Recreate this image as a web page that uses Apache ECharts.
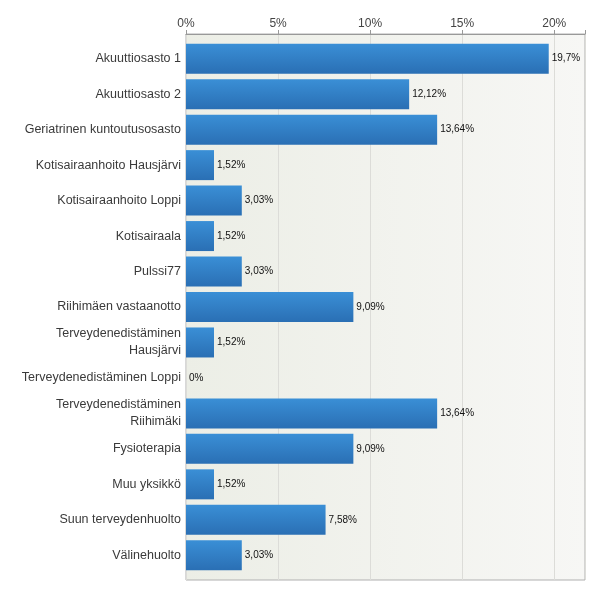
<!DOCTYPE html>
<html><head><meta charset="utf-8">
<script src="https://cdn.jsdelivr.net/npm/echarts@6/dist/echarts.min.js"></script>
<style>html,body{margin:0;padding:0;background:#fff}#c{width:600px;height:595px}</style>
</head><body><div id="c"></div>
<script>
const categories = [
  "Akuuttiosasto 1",
  "Akuuttiosasto 2",
  "Geriatrinen kuntoutusosasto",
  "Kotisairaanhoito Hausjärvi",
  "Kotisairaanhoito Loppi",
  "Kotisairaala",
  "Pulssi77",
  "Riihimäen vastaanotto",
  "Terveydenedistäminen\nHausjärvi",
  "Terveydenedistäminen Loppi",
  "Terveydenedistäminen\nRiihimäki",
  "Fysioterapia",
  "Muu yksikkö",
  "Suun terveydenhuolto",
  "Välinehuolto"
];
const values = [19.7, 12.12, 13.64, 1.52, 3.03, 1.52, 3.03, 9.09, 1.52, 0, 13.64, 9.09, 1.52, 7.58, 3.03];
const valueLabels = ["19,7%", "12,12%", "13,64%", "1,52%", "3,03%", "1,52%", "3,03%", "9,09%", "1,52%", "0%", "13,64%", "9,09%", "1,52%", "7,58%", "3,03%"];
const tickLabels = ["0%", "5%", "10%", "15%", "20%"];

const FONT = 'Arial, "Liberation Sans", sans-serif';
const chart = echarts.init(document.getElementById('c'));
chart.setOption({
  animation: false,
  grid: [{
    left: 186, right: 15, top: 34, bottom: 15,
    show: true,
    borderColor: '#b0b0b0',
    borderWidth: 1,
    backgroundColor: new echarts.graphic.LinearGradient(0, 0, 1, 0, [
      {offset: 0, color: '#eceee6'},
      {offset: 1, color: '#f7f7f5'}
    ])
  }, {
    left: 186, right: 15, top: 41, bottom: 22
  }],
  xAxis: [{
    gridIndex: 0,
    type: 'value',
    position: 'top',
    min: 0, max: 21.67, interval: 5,
    axisLine: {show: true, lineStyle: {color: '#999'}},
    axisTick: {show: true, length: 4, lineStyle: {color: '#999'}},
    splitLine: {show: true, lineStyle: {color: '#dcdcd8'}},
    axisLabel: {
      color: '#444', fontSize: 12, fontFamily: FONT, margin: 4,
      formatter: function (v) { const i = Math.round(v / 5); return (tickLabels[i] !== undefined && Math.abs(v - i*5) < 1e-6) ? tickLabels[i] : ''; }
    }
  }, {
    gridIndex: 1,
    type: 'value',
    min: 0, max: 21.67,
    show: false
  }],
  yAxis: [{
    gridIndex: 0,
    type: 'category',
    data: categories,
    show: false
  }, {
    gridIndex: 1,
    type: 'category',
    inverse: true,
    data: categories,
    axisLine: {show: false},
    axisTick: {show: false},
    splitLine: {show: false},
    axisLabel: {color: '#3a3a3a', fontSize: 12.5, fontFamily: FONT, margin: 5, lineHeight: 17}
  }],
  series: [{
    type: 'bar',
    xAxisIndex: 1,
    yAxisIndex: 1,
    data: values,
    barWidth: 30,
    itemStyle: {
      color: new echarts.graphic.LinearGradient(0, 0, 0, 1, [
        {offset: 0, color: '#3a8fd6'},
        {offset: 1, color: '#2a6fb4'}
      ])
    },
    label: {
      show: true,
      position: 'right',
      distance: 3,
      color: '#111',
      fontSize: 10,
      fontFamily: FONT,
      formatter: function (p) { return valueLabels[p.dataIndex]; }
    }
  }]
});
</script></body></html>
